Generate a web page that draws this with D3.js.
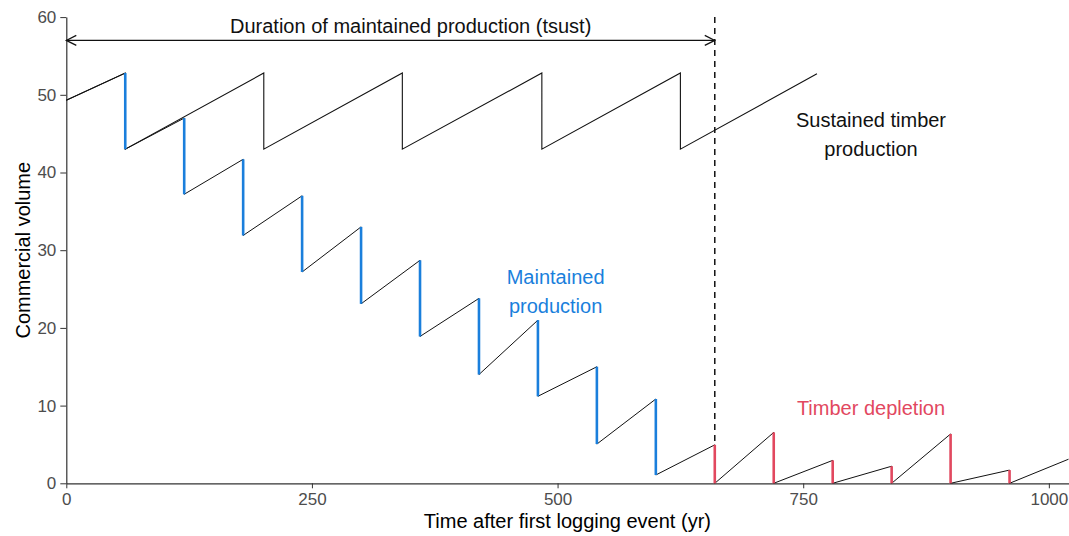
<!DOCTYPE html>
<html>
<head>
<meta charset="utf-8">
<script src="https://cdn.jsdelivr.net/npm/d3@7"></script>
<style>
  body { margin: 0; background: #fff; }
  svg { font-family: "Liberation Sans", Arial, sans-serif; }
  .tick text { fill: #4d4d4d; font-size: 17px; }
  .tick line { stroke: #333; }
  .domain { stroke: #333; stroke-width: 1.2px; }
</style>
</head>
<body>
<svg id="chart" width="1069" height="536"></svg>
<script>
// sustained timber production (one harvest at 60, then regrowth cycles)
var sustYears = [0, 60, 60, 201, 201, 342, 342, 484, 484, 625, 625, 764]
var sustVol   = [49.3, 52.8, 43.0, 52.8, 43.0, 52.8, 43.0, 52.8, 43.0, 52.8, 43.0, 52.7]

// maintained production: a harvest every 60 yr
var harvestYears = [60, 120, 180, 240, 300, 360, 420, 480, 540, 600, 660, 720, 780, 840, 900, 960]
var preVol  = [52.8, 47.0, 41.7, 37.0, 33.0, 28.7, 23.8, 21.0, 15.0, 10.85, 4.95, 6.55, 2.95, 2.2, 6.35, 1.7]
var postVol = [43.0, 37.2, 31.9, 27.2, 23.1, 18.9, 14.0, 11.2, 5.05, 1.07, 0, 0, 0, 0, 0, 0]
var startVol = 49.3
var endYear = 1020, endVol = 3.1

var tsust = 660
var xTicks = [0, 250, 500, 750, 1000]
var yTicks = [0, 10, 20, 30, 40, 50, 60]

var svg = d3.select('#chart')
var margin = {left: 66.3, right: 0.5, top: 17.1, bottom: 52.7}
var width = 1069, height = 536

var x = d3.scaleLinear().domain([0, endYear]).range([margin.left, width - margin.right])
var y = d3.scaleLinear().domain([0, 60]).range([height - margin.bottom, margin.top])

// axes
svg.append('g')
  .attr('transform', 'translate(0,' + y(0) + ')')
  .call(d3.axisBottom(x).tickValues(xTicks).tickFormat(d3.format('d'))
    .tickSize(5).tickSizeOuter(0).tickPadding(5))

svg.append('g')
  .attr('transform', 'translate(' + x(0) + ',0)')
  .call(d3.axisLeft(y).tickValues(yTicks).tickFormat(d3.format('d'))
    .tickSize(6).tickSizeOuter(0).tickPadding(4))

svg.append('text')
  .attr('x', (x.range()[0] + x.range()[1]) / 2)
  .attr('y', 528)
  .attr('text-anchor', 'middle')
  .style('font-size', '20px')
  .text('Time after first logging event (yr)')

svg.append('text')
  .attr('transform', 'translate(30,' + (y(30)) + ') rotate(-90)')
  .attr('text-anchor', 'middle')
  .style('font-size', '20px')
  .text('Commercial volume')

var line = d3.line().x(function (d) { return x(d[0]) }).y(function (d) { return y(d[1]) })

// black sustained line
var sustPts = sustYears.map(function (yr, i) { return [yr, sustVol[i]] })
svg.append('path')
  .attr('d', line(sustPts))
  .attr('fill', 'none')
  .attr('stroke', '#111')
  .attr('stroke-width', 1.1)

// black maintained sawtooth
var mainPts = [[0, startVol]]
harvestYears.forEach(function (yr, i) {
  mainPts.push([yr, preVol[i]])
  mainPts.push([yr, postVol[i]])
})
mainPts.push([endYear, endVol])
svg.append('path')
  .attr('d', line(mainPts))
  .attr('fill', 'none')
  .attr('stroke', '#111')
  .attr('stroke-width', 1.0)

// coloured harvest drops
svg.selectAll('.harvest')
  .data(harvestYears)
  .enter().append('line')
  .attr('class', 'harvest')
  .attr('x1', function (d) { return x(d) })
  .attr('x2', function (d) { return x(d) })
  .attr('y1', function (d, i) { return y(preVol[i]) })
  .attr('y2', function (d, i) { return y(postVol[i]) })
  .attr('stroke', function (d) { return d < tsust ? '#1a7fdc' : '#e2485f' })
  .attr('stroke-width', 2.6)

// tsust dashed line
svg.append('line')
  .attr('x1', x(tsust)).attr('x2', x(tsust))
  .attr('y1', y(60)).attr('y2', y(preVol[harvestYears.indexOf(tsust)]))
  .attr('stroke', '#111')
  .attr('stroke-width', 1.5)
  .attr('stroke-dasharray', '6,5')

// duration arrow
var ay = y(57)
svg.append('line')
  .attr('x1', x(0)).attr('x2', x(tsust))
  .attr('y1', ay).attr('y2', ay)
  .attr('stroke', '#111').attr('stroke-width', 1.2)
svg.append('path')
  .attr('d', 'M' + (x(0) + 10) + ',' + (ay - 5) + 'L' + x(0) + ',' + ay + 'L' + (x(0) + 10) + ',' + (ay + 5) +
    'M' + (x(tsust) - 10) + ',' + (ay - 5) + 'L' + x(tsust) + ',' + ay + 'L' + (x(tsust) - 10) + ',' + (ay + 5))
  .attr('fill', 'none').attr('stroke', '#111').attr('stroke-width', 1.2)

// annotations
function label(xv, yv, lines, color) {
  var t = svg.append('text')
    .attr('x', x(xv)).attr('y', y(yv))
    .attr('text-anchor', 'middle')
    .attr('fill', color)
    .style('font-size', '20px')
  lines.forEach(function (s, i) {
    t.append('tspan').attr('x', x(xv)).attr('dy', i ? 29 : 0).text(s)
  })
}
label(350.5, 57.9, ['Duration of maintained production (tsust)'], '#111')
label(819, 45.8, ['Sustained timber', 'production'], '#111')
label(498, 25.7, ['Maintained', 'production'], '#1a7fdc')
label(819, 8.8, ['Timber depletion'], '#e2485f')
</script>
</body>
</html>
